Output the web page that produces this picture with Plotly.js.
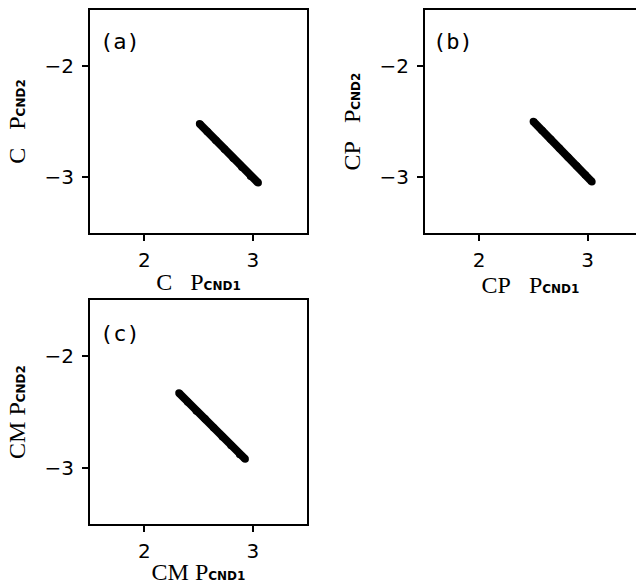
<!DOCTYPE html>
<html>
<head>
<meta charset="utf-8">
<script src="https://cdn.plot.ly/plotly-3.0.1.min.js"></script>
<style>html,body{margin:0;padding:0;background:#fff;overflow:hidden;}</style>
</head>
<body>
<div id="chart" style="width:636px;height:585px;"></div>
<script>
// Panel (a): C
const cX = [2.51, 2.58, 2.66, 2.74, 2.82, 2.90, 2.98, 3.05];
const cY = [-2.52, -2.59, -2.67, -2.75, -2.83, -2.91, -2.99, -3.05];
// Panel (b): CP
const cpX = [2.50, 2.58, 2.66, 2.74, 2.82, 2.90, 2.98, 3.04];
const cpY = [-2.50, -2.58, -2.66, -2.74, -2.82, -2.90, -2.98, -3.04];
// Panel (c): CM
const cmX = [2.32, 2.40, 2.48, 2.56, 2.64, 2.72, 2.80, 2.88, 2.93];
const cmY = [-2.33, -2.41, -2.49, -2.56, -2.64, -2.72, -2.80, -2.88, -2.92];

const xTicks = [2, 3];
const yTicks = [-2, -3];
const panelLabels = ['(a)', '(b)', '(c)'];
const prefixes = ['C\u00A0\u00A0\u00A0', 'CP\u00A0\u00A0\u00A0', 'CM\u00A0'];

const sub = s => '<span style="font-size:12px;font-weight:bold;font-family:DejaVu Sans">' + s + '</span>';
const titleX = p => p + 'P' + sub('CND1');
const titleY = p => p + 'P' + sub('CND2');

const mk = (x, y, xa, ya) => ({
  x: x, y: y, xaxis: xa, yaxis: ya, type: 'scatter', mode: 'lines+markers',
  line: {color: '#000', width: 8}, marker: {color: '#000', size: 7.5},
  showlegend: false, hoverinfo: 'skip'
});

const data = [
  mk(cX, cY, 'x', 'y'),
  mk(cpX, cpY, 'x2', 'y2'),
  mk(cmX, cmY, 'x3', 'y3')
];

const tickFont = {family: 'DejaVu Sans, sans-serif', size: 20, color: '#000'};
const titleFont = {family: 'Liberation Serif, serif', size: 24, color: '#000'};
const labelFont = {family: 'DejaVu Sans Mono, monospace', size: 22, color: '#000'};

function xax(domain, range, anchor, title) {
  return {
    domain: domain, range: range, anchor: anchor, tickvals: xTicks,
    ticks: 'outside', ticklen: 6, tickwidth: 2, tickcolor: '#000',
    ticklabelstandoff: 2,
    showline: true, linewidth: 2, linecolor: '#000', mirror: true,
    showgrid: false, zeroline: false, tickfont: tickFont,
    title: {text: title, font: titleFont, standoff: 2}
  };
}
function yax(domain, range, anchor, title) {
  return {
    domain: domain, range: range, anchor: anchor, tickvals: yTicks,
    ticks: 'outside', ticklen: 6, tickwidth: 2, tickcolor: '#000',
    ticklabelstandoff: 4,
    showline: true, linewidth: 2, linecolor: '#000', mirror: true,
    showgrid: false, zeroline: false, tickfont: tickFont,
    title: {text: title, font: titleFont, standoff: 12}
  };
}

const W = 636, H = 585;
const layout = {
  width: W, height: H,
  margin: {l: 0, r: 0, t: 0, b: 0},
  paper_bgcolor: '#fff', plot_bgcolor: '#fff',
  xaxis: xax([90 / W, 307 / W], [1.5, 3.5], 'y', titleX(prefixes[0])),
  yaxis: yax([1 - 233 / H, 1 - 10 / H], [-3.5, -1.5], 'x', titleY(prefixes[0])),
  xaxis2: xax([425 / W, 1], [1.5, 3.447], 'y2', titleX(prefixes[1])),
  yaxis2: yax([1 - 233 / H, 1 - 10 / H], [-3.5, -1.5], 'x2', titleY(prefixes[1])),
  xaxis3: xax([90 / W, 307 / W], [1.5, 3.5], 'y3', titleX(prefixes[2])),
  yaxis3: yax([1 - 524 / H, 1 - 300 / H], [-3.5, -1.5], 'x3', titleY(prefixes[2])),
  annotations: [
    {text: panelLabels[0], xref: 'x domain', yref: 'y domain', x: 0.035, y: 0.86, xanchor: 'left', yanchor: 'middle', showarrow: false, font: labelFont},
    {text: panelLabels[1], xref: 'x2 domain', yref: 'y2 domain', x: 0.03, y: 0.86, xanchor: 'left', yanchor: 'middle', showarrow: false, font: labelFont},
    {text: panelLabels[2], xref: 'x3 domain', yref: 'y3 domain', x: 0.035, y: 0.85, xanchor: 'left', yanchor: 'middle', showarrow: false, font: labelFont}
  ]
};

Plotly.newPlot('chart', data, layout, {displayModeBar: false, staticPlot: true});
</script>
</body>
</html>
